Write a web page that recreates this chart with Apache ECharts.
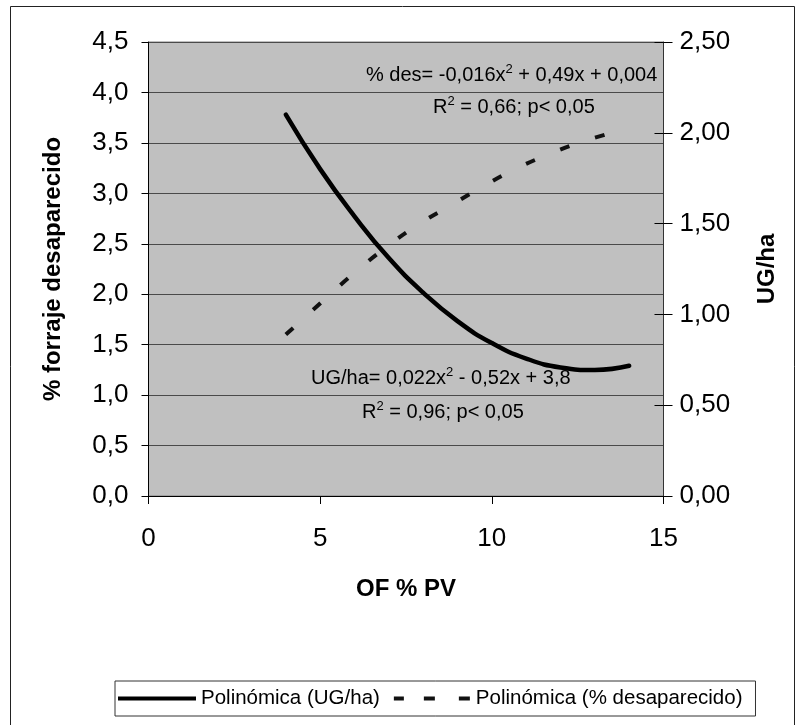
<!DOCTYPE html>
<html><head><meta charset="utf-8">
<script src="https://cdn.jsdelivr.net/npm/echarts@6/dist/echarts.min.js"></script>
<style>html,body{margin:0;padding:0;background:#fff}#c{width:804px;height:725px}</style>
</head><body><div id="c"></div>
<script>
// ---- data ----
const xTicks = [0, 5, 10, 15];
const leftTicks = [0, 0.5, 1, 1.5, 2, 2.5, 3, 3.5, 4, 4.5];
const rightTicks = [0, 0.5, 1, 1.5, 2, 2.5];
// Polinómica (UG/ha) trend line, right axis
const ugX = [4, 5, 6, 7, 8, 9, 10, 11, 12, 13, 14];
const ugY = [2.10, 1.80, 1.54, 1.31, 1.12, 0.963, 0.842, 0.757, 0.708, 0.694, 0.717];
// Polinómica (% desaparecido) trend line, left axis
const desX = [4, 5.07, 5.99, 6.94, 7.86, 8.80, 9.75, 10.68, 11.61, 12.53, 13.48, 14];
const desY = [1.60, 1.93, 2.21, 2.47, 2.69, 2.88, 3.07, 3.24, 3.38, 3.50, 3.60, 3.65];
const seriesNames = ['Polinómica (UG/ha)', 'Polinómica (% desaparecido)'];
const eqDes = ['% des= -0,016x', '2', ' + 0,49x + 0,004'];
const r2Des = ['R', '2', ' = 0,66; p< 0,05'];
const eqUG = ['UG/ha= 0,022x', '2', ' - 0,52x + 3,8'];
const r2UG = ['R', '2', ' = 0,96; p< 0,05'];

const F = 'Liberation Sans, Arial, sans-serif';
const chart = echarts.init(document.getElementById('c'), null, {renderer: 'canvas'});
const zip = (a, b) => a.map((v, i) => [v, b[i]]);
const rich = {
  a: {fontSize: 20, fontFamily: F, fill: '#000', color: '#000', lineHeight: 24},
  s: {fontSize: 13, fontFamily: F, fill: '#000', color: '#000', verticalAlign: 'top', lineHeight: 10}
};
const eqText = (p) => '{a|' + p[0] + '}{s|' + p[1] + '}{a|' + p[2] + '}';

chart.setOption({
  backgroundColor: '#fff',
  animation: false,
  grid: {left: 148.5, right: 140.5, top: 42, bottom: 229, show: true,
         backgroundColor: '#c0c0c0', borderColor: '#808080', borderWidth: 1},
  xAxis: {
    type: 'value', min: 0, max: 15, interval: 5,
    name: 'OF % PV', nameLocation: 'middle', nameGap: 81,
    nameTextStyle: {fontSize: 24, fontWeight: 'bold', fontFamily: F, color: '#000'},
    axisLine: {lineStyle: {color: '#000', width: 1}},
    axisTick: {show: true, inside: false, length: 8, lineStyle: {color: '#000'}},
    axisLabel: {fontSize: 26, fontFamily: F, color: '#000', margin: 30,
                formatter: v => xTicks.includes(v) ? String(v) : ''},
    splitLine: {show: false}
  },
  yAxis: [{
    type: 'value', min: 0, max: 4.5, interval: 0.5, position: 'left',
    name: '% forraje desaparecido', nameLocation: 'middle', nameGap: 83, nameRotate: 90,
    nameTextStyle: {fontSize: 24, fontWeight: 'bold', fontFamily: F, color: '#000'},
    axisLine: {show: true, lineStyle: {color: '#000'}},
    axisTick: {show: true, inside: false, length: 7, lineStyle: {color: '#000'}},
    axisLabel: {fontSize: 26, fontFamily: F, color: '#000', margin: 20,
                formatter: v => leftTicks.includes(v) ? v.toFixed(1).replace('.', ',') : ''},
    splitLine: {show: true, lineStyle: {color: '#4a4a4a', width: 1}}
  }, {
    type: 'value', min: 0, max: 2.5, interval: 0.5, position: 'right', offset: 0,
    name: 'UG/ha', nameLocation: 'middle', nameGap: 92, nameRotate: 90,
    nameTextStyle: {fontSize: 24, fontWeight: 'bold', fontFamily: F, color: '#000'},
    axisLine: {show: true, lineStyle: {color: '#333'}},
    axisTick: {show: true, inside: false, length: 9, lineStyle: {color: '#000'}},
    axisLabel: {fontSize: 26, fontFamily: F, color: '#000', margin: 16,
                formatter: v => rightTicks.includes(v) ? v.toFixed(2).replace('.', ',') : ''},
    splitLine: {show: false}
  }, {
    type: 'value', min: 0, max: 2.5, interval: 0.5, position: 'right', offset: 0,
    axisLine: {show: false},
    axisTick: {show: true, inside: true, length: 9, lineStyle: {color: '#000'}},
    axisLabel: {show: false}, splitLine: {show: false}
  }],
  legend: {
    left: 115, top: 681, orient: 'horizontal',
    padding: [7, 13, 7, 3], itemGap: 14, itemWidth: 78, itemHeight: 4,
    borderColor: '#333', borderWidth: 1, backgroundColor: '#fff',
    textStyle: {fontSize: 20.5, fontFamily: F, color: '#000'},
    data: [
      {name: seriesNames[0], icon: 'rect'},
      {name: seriesNames[1], icon: 'path://M0,0h10v4h-10zM30,0h11v4h-11zM65,0h11v4h-11z'}
    ]
  },
  series: [{
    name: seriesNames[0], type: 'line', yAxisIndex: 1, smooth: 0.5, symbol: 'none',
    data: zip(ugX, ugY), color: '#000',
    lineStyle: {color: '#000', width: 4.5, cap: 'round'}
  }, {
    name: seriesNames[1], type: 'line', yAxisIndex: 0, smooth: 0.5, symbol: 'none',
    data: zip(desX, desY), color: '#111',
    lineStyle: {color: '#111', width: 4, type: [10, 27]}
  }],
  graphic: [
    {type: 'rect', silent: true, z: -10, shape: {x: 10.5, y: 6.5, width: 784, height: 740},
     style: {fill: null, stroke: '#222', lineWidth: 1}},
    {type: 'text', left: 366, top: 63, z: 100, style: {text: eqText(eqDes), rich}},
    {type: 'text', left: 433, top: 95, z: 100, style: {text: eqText(r2Des), rich}},
    {type: 'text', left: 311, top: 366, z: 100, style: {text: eqText(eqUG), rich}},
    {type: 'text', left: 362, top: 400, z: 100, style: {text: eqText(r2UG), rich}}
  ]
});
</script></body></html>
